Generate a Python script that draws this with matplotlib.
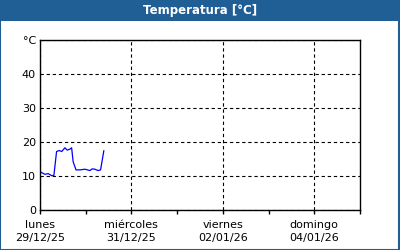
import matplotlib
matplotlib.use('Agg')
import matplotlib.pyplot as plt
from matplotlib.patches import Rectangle

# horas desde lunes 29/12/25 00:00 y temperatura
horas = [0.5, 2.6, 4.3, 6.1, 7.3, 8.7, 10.1, 11.4, 13.1, 14.3, 15.7, 16.6,
         17.4, 18.9, 21.0, 23.6, 26.2, 27.4, 28.8, 30.5, 31.8, 33.5]
temp = [11.1, 10.5, 10.7, 10.1, 10.2, 17.2, 17.5, 17.2, 18.3, 17.6, 17.9, 18.3,
        14.2, 11.8, 11.8, 12.0, 11.6, 12.1, 12.0, 11.6, 11.8, 17.4]

dias = ['lunes\n29/12/25', 'miércoles\n31/12/25', 'viernes\n02/01/26', 'domingo\n04/01/26']
yticks = [0, 10, 20, 30, 40, 50]
ylabels = ['0', '10', '20', '30', '40', '°C']

azul = '#1f5f96'
plt.rcParams['font.family'] = ['DejaVu Sans']

fig = plt.figure(figsize=(4, 2.5), dpi=100)
fig.patch.set_facecolor('white')

# barra del titulo y borde
fig.patches.append(Rectangle((0, 0.916), 1, 0.084, transform=fig.transFigure,
                             facecolor=azul, edgecolor='none', zorder=0))
fig.patches.append(Rectangle((0.001, 0.002), 0.997, 0.996, transform=fig.transFigure,
                             facecolor='none', edgecolor=azul, lw=1.5, zorder=5))
fig.text(0.5, 0.958, 'Temperatura [°C]', color='white', fontsize=8.5, fontweight='bold',
         ha='center', va='center')

ax = fig.add_axes([0.1, 0.16, 0.8, 0.68])
ax.plot(horas, temp, color='#0000ff', lw=0.9)

ax.set_xlim(0, 168)
ax.set_ylim(0, 50)
ax.set_xticks([0, 48, 96, 144])
ax.set_xticklabels(dias, fontsize=8, linespacing=1.45)
ax.set_xticks([24, 72, 120, 168], minor=True)
ax.set_yticks(yticks)
ax.set_yticklabels(ylabels, fontsize=8)

ax.tick_params(axis='y', length=0, pad=3)
ax.tick_params(axis='x', which='both', length=3, width=1, direction='out', pad=4)
ax.grid(True, which='major', color='black', linestyle=(0, (3, 2.5)), lw=0.8)
for s in ax.spines.values():
    s.set_color('black')
    s.set_linewidth(1)

fig.savefig('out.png', dpi=100)
